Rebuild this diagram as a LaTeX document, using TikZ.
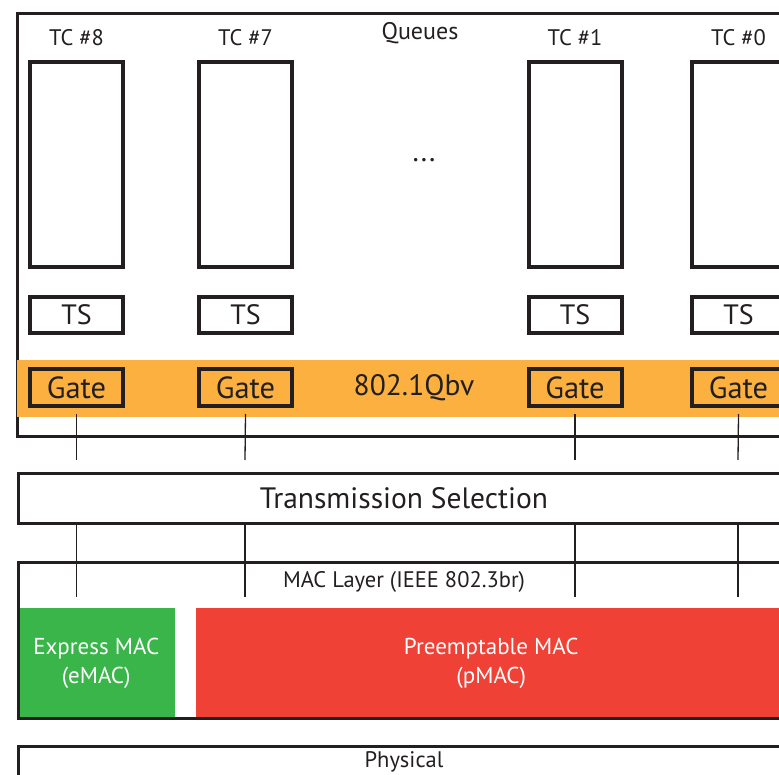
\documentclass[tikz,border=0pt]{standalone}
\usepackage{fontspec}
\setmainfont{PT Sans}
\usetikzlibrary{positioning}
\definecolor{ink}{RGB}{35,31,32}
\definecolor{qbv}{RGB}{251,176,64}
\definecolor{emacgreen}{RGB}{57,181,74}
\definecolor{pmacred}{RGB}{239,65,54}

\begin{document}
\begin{tikzpicture}[x=1pt,y=-1pt]
 \useasboundingbox (0,0) rectangle (779,775);
 \tikzstyle{layer} = [draw=ink, line width=3pt, inner sep=0pt, anchor=north west, minimum width=775pt];
 \tikzstyle{small} = [text=ink, font=\fontsize{22.5}{26}\selectfont, inner sep=0pt];
 \tikzstyle{big} = [text=ink, font=\fontsize{29.5}{33}\selectfont, inner sep=0pt];
 \tikzstyle{slot} = [draw=ink, line width=4pt, inner sep=0pt, minimum width=93pt];
 \tikzstyle{wire} = [draw=ink, line width=1.3pt];

 % queue frame and gate band
 \node (frame) [layer, minimum height=422pt, minimum width=800pt] at (15.5,12.5) {};
 \fill[qbv] (17,360) rectangle (800,417);
 \node (queues) [small, font=\fontsize{24}{28}\selectfont] at (420,33) {Queues};
 \node (dots) [big] at (424,160) {...};
 \node (qbvlabel) [big] at (414,388) {802.1Qbv};

 \foreach \n/\x in {8/76.5,7/245.5,1/575,0/738.5} {
  \node (tc\n) [small] at (\x,38) {TC \#\n};
  \node (q\n) [slot, minimum height=205pt] at (\x,164.5) {};
  \node (ts\n) [slot, big, font=\fontsize{28}{32}\selectfont, minimum height=36pt] at (\x,315) {TS};
  \node (gate\n) [slot, big, font=\fontsize{30.5}{34}\selectfont, minimum height=37pt] at (\x,387.5) {Gate};
 }

 \node (txsel) [layer, minimum height=50pt] at (16.5,471.5) {};
 \node (txlabel) [big] at (txsel.center -| 404,0) {Transmission Selection};

 % MAC layer
 \node (emac) [fill=emacgreen, text=white, align=center, anchor=north west, inner sep=0pt, text depth=4pt,
   minimum width=158pt, minimum height=109pt, font=\fontsize{23}{29}\selectfont] at (17,608) {Express MAC\\(eMAC)};
 \node (pmac) [fill=pmacred, text=white, align=center, anchor=north west, inner sep=0pt, text depth=4pt,
   minimum width=590pt, minimum height=109pt, font=\fontsize{23}{29}\selectfont] at (196,608) {Preemptable MAC\\(pMAC)};
 \node (mac) [layer, minimum height=156pt] at (16.5,560.5) {};
 \node (maclabel) [small] at (404,582) {MAC Layer (IEEE 802.3br)};

 \node (phy) [layer, minimum height=60pt] at (16.5,744.5) {};
 \node (phylabel) [small] at (404,762) {Physical};

 \foreach \n/\x in {8/76.5,7/245,1/575,0/738} {
  \coordinate (up\n) at (\x,460);
  \coordinate (dn\n) at (\x,597);
  \draw [wire] ([yshift=-6pt]gate\n.south) -- (up\n);
  \draw [wire] (txsel.south -| up\n) -- (dn\n);
 }
\end{tikzpicture}
\end{document}
